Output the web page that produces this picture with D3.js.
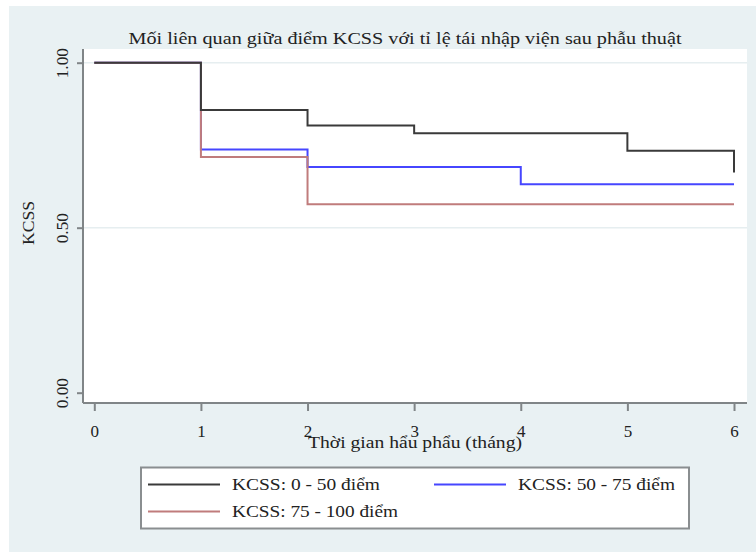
<!DOCTYPE html>
<html>
<head>
<meta charset="utf-8">
<script src="https://cdn.jsdelivr.net/npm/d3@7"></script>
<style>
  html, body { margin: 0; padding: 0; background: #ffffff; }
  svg { display: block; }
  text { font-family: "Liberation Serif", "DejaVu Serif", serif; fill: #222; }
</style>
</head>
<body>
<svg id="chart" width="756" height="552"></svg>
<script>
// Kaplan–Meier style step curves: readmission-free proportion by KCSS group
const months = [0, 1, 2, 3, 4, 5, 6];
const xTicks = [0, 1, 2, 3, 4, 5, 6];
const yTicks = [0, 0.5, 1];
const yTickLabels = ["0.00", "0.50", "1.00"];

// survival value at the start of each month (last value held to month 6)
const group0to50 = [1.000, 0.857, 0.810, 0.786, 0.786, 0.733, 0.733];
const group50to75 = [1.000, 0.737, 0.684, 0.684, 0.632, 0.632, 0.632];
const group75to100 = [1.000, 0.714, 0.571, 0.571, 0.571, 0.571, 0.571];
// final drop of the 0–50 group at month 6
const group0to50End = 0.667;

const seriesNames = ["KCSS: 0 - 50 điểm", "KCSS: 50 - 75 điểm", "KCSS: 75 - 100 điểm"];
const seriesColors = ["#3a3a3a", "#4646ff", "#c07c7c"];

const titleText = "Mối liên quan giữa điểm KCSS với tỉ lệ tái nhập viện sau phẫu thuật";
const xTitle = "Thời gian hẩu phẩu (tháng)";
const yTitle = "KCSS";

const svg = d3.select("#chart");

// outer graph region
svg.append("rect").attr("x", 9).attr("y", 6).attr("width", 747).attr("height", 546)
  .attr("fill", "#e9f1f3");

const plot = { left: 83, right: 747, top: 49, bottom: 403 };
svg.append("rect").attr("x", plot.left).attr("y", plot.top)
  .attr("width", plot.right - plot.left).attr("height", plot.bottom - plot.top)
  .attr("fill", "#ffffff");

const x = d3.scaleLinear().domain([0, 6]).range([94.3, 734]);
const y = d3.scaleLinear().domain([0, 1]).range([392.7, 62.7]);

// horizontal grid
svg.append("g").selectAll("line").data(yTicks.filter(d => d > 0)).join("line")
  .attr("x1", plot.left).attr("x2", plot.right)
  .attr("y1", d => y(d)).attr("y2", d => y(d))
  .attr("stroke", "#e6eef0").attr("stroke-width", 1.5);

// axes
const yAxis = d3.axisLeft(y).tickValues(yTicks)
  .tickFormat((d, i) => yTickLabels[i]).tickSize(6).tickPadding(10);
const gy = svg.append("g").attr("transform", `translate(${plot.left},0)`).call(yAxis);
gy.select(".domain").attr("d", `M0,${plot.top}V${plot.bottom}`);
gy.selectAll(".domain, .tick line").attr("stroke", "#808587").attr("stroke-width", 2);
gy.selectAll(".tick text")
  .attr("transform", "rotate(-90, -21, 0)")
  .attr("x", -21).attr("dy", "0.35em").attr("text-anchor", "middle")
  .attr("textLength", 30).attr("lengthAdjust", "spacingAndGlyphs")
  .style("font-size", "16px").style("font-family", "Liberation Serif, serif").attr("fill", "#333");

const xAxis = d3.axisBottom(x).tickValues(xTicks).tickFormat(d3.format("d"))
  .tickSize(8).tickPadding(14);
const gx = svg.append("g").attr("transform", `translate(0,${plot.bottom})`).call(xAxis);
gx.select(".domain").attr("d", `M${plot.left},0H${plot.right}`);
gx.selectAll(".domain, .tick line").attr("stroke", "#808587").attr("stroke-width", 2);
gx.selectAll(".tick text")
  .style("font-size", "17px").style("font-family", "Liberation Serif, serif").attr("fill", "#333");

// step curves
const stepLine = d3.line().x(d => x(d[0])).y(d => y(d[1])).curve(d3.curveStepAfter);
const curves = [
  { vals: group0to50, end: group0to50End, color: seriesColors[0] },
  { vals: group50to75, end: null, color: seriesColors[1] },
  { vals: group75to100, end: null, color: seriesColors[2] }
];
const drawOrder = [1, 2, 0];
drawOrder.forEach(i => {
  const c = curves[i];
  const pts = months.map((m, j) => [m, c.vals[j]]);
  if (c.end !== null) pts.push([months[months.length - 1], c.end]);
  svg.append("path").datum(pts).attr("d", stepLine)
    .attr("fill", "none").attr("stroke", c.color).attr("stroke-width", 2)
    .attr("stroke-linejoin", "miter");
});

// titles (glyphs widened to the graph's condensed-serif proportions)
function stretched(sel, len) {
  return sel.attr("textLength", len).attr("lengthAdjust", "spacingAndGlyphs");
}
stretched(svg.append("text").attr("x", 405).attr("y", 44).attr("text-anchor", "middle")
  .style("font-size", "17px").attr("fill", "#333").text(titleText), 553);
stretched(svg.append("text").attr("x", 415).attr("y", 448).attr("text-anchor", "middle")
  .style("font-size", "17px").attr("fill", "#333").text(xTitle), 214);
stretched(svg.append("text").attr("transform", "translate(34,223) rotate(-90)").attr("text-anchor", "middle")
  .style("font-size", "17px").attr("fill", "#333").text(yTitle), 44);

// legend
const lg = svg.append("g");
lg.append("rect").attr("x", 141).attr("y", 467.5).attr("width", 548).attr("height", 61)
  .attr("fill", "#ffffff").attr("stroke", "#8a8e90").attr("stroke-width", 2);
const legendPos = [
  { lx: 148, ly: 484.5, len: 148 },
  { lx: 434, ly: 484.5, len: 157 },
  { lx: 148, ly: 511.5, len: 166 }
];
seriesNames.forEach((name, i) => {
  const p = legendPos[i];
  lg.append("line").attr("x1", p.lx).attr("x2", p.lx + 72).attr("y1", p.ly).attr("y2", p.ly)
    .attr("stroke", seriesColors[i]).attr("stroke-width", 2);
  stretched(lg.append("text").attr("x", p.lx + 84).attr("y", p.ly).attr("dy", "0.35em")
    .style("font-size", "17px").attr("fill", "#2a2a2a").text(name), p.len);
});
</script>
</body>
</html>
